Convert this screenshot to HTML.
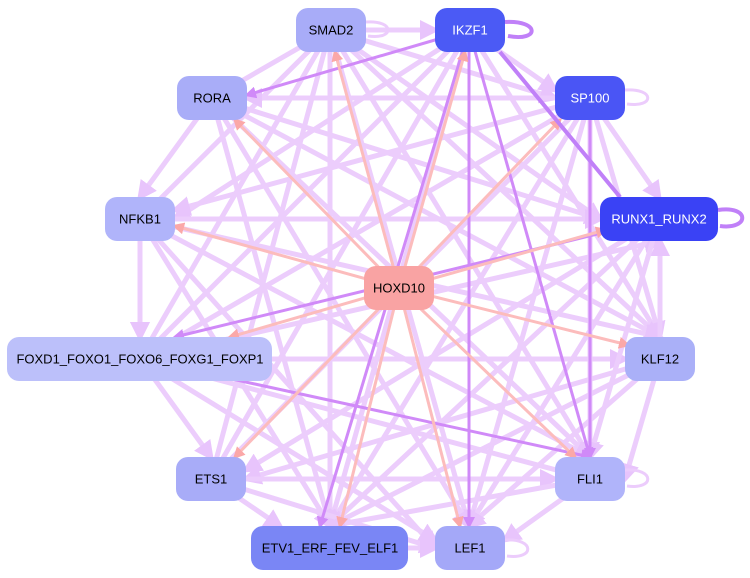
<!DOCTYPE html>
<html><head><meta charset="utf-8"><style>
html,body{margin:0;padding:0;background:#fff;width:750px;height:578px;overflow:hidden}
svg{display:block}
text{font-family:"Liberation Sans",sans-serif;font-size:13px;text-anchor:middle;dominant-baseline:central}
</style></head><body>
<svg width="750" height="578" viewBox="0 0 750 578">
<defs>
<marker id="a" markerWidth="4" markerHeight="4" refX="3" refY="2" orient="auto"><path d="M0,0L4,2L0,4z" fill="#e8c4fc"/></marker>
<marker id="p" markerWidth="4" markerHeight="4" refX="3" refY="2" orient="auto"><path d="M0,0L4,2L0,4z" fill="#d08af8"/></marker>
<marker id="r" markerWidth="4" markerHeight="4" refX="3" refY="2" orient="auto"><path d="M0,0L4,2L0,4z" fill="#fba8a8"/></marker>
</defs>
<g stroke="#eccdfc" stroke-width="5" fill="none" marker-end="url(#a)">
<line x1="330" y1="30" x2="435" y2="30"/><line x1="330" y1="30" x2="212" y2="98"/><line x1="330" y1="30" x2="140" y2="219"/>
<line x1="330" y1="30" x2="140" y2="359"/><line x1="330" y1="30" x2="211" y2="479"/><line x1="330" y1="30" x2="330" y2="526"/>
<line x1="330" y1="30" x2="469" y2="526"/><line x1="330" y1="30" x2="590" y2="457"/><line x1="330" y1="30" x2="660" y2="337"/>
<line x1="330" y1="30" x2="600" y2="219"/><line x1="330" y1="30" x2="555" y2="98"/>
<line x1="469" y1="30" x2="140" y2="359"/><line x1="469" y1="30" x2="211" y2="479"/><line x1="469" y1="30" x2="330" y2="526"/>
<line x1="469" y1="30" x2="660" y2="337"/><line x1="469" y1="30" x2="175" y2="219"/><line x1="469" y1="30" x2="555" y2="90"/>
<line x1="590" y1="98" x2="247" y2="98"/><line x1="590" y1="98" x2="175" y2="210"/><line x1="590" y1="98" x2="140" y2="359"/>
<line x1="590" y1="98" x2="211" y2="479"/><line x1="590" y1="98" x2="330" y2="526"/><line x1="590" y1="98" x2="469" y2="526"/>
<line x1="590" y1="98" x2="590" y2="457"/><line x1="590" y1="98" x2="659" y2="197"/><line x1="590" y1="98" x2="660" y2="337"/>
<line x1="212" y1="98" x2="140" y2="197"/><line x1="212" y1="98" x2="660" y2="337"/><line x1="212" y1="98" x2="590" y2="457"/>
<line x1="212" y1="98" x2="469" y2="526"/><line x1="212" y1="98" x2="330" y2="526"/><line x1="212" y1="98" x2="600" y2="219"/>
<line x1="140" y1="219" x2="140" y2="337"/><line x1="140" y1="219" x2="600" y2="219"/><line x1="140" y1="219" x2="435" y2="548"/>
<line x1="140" y1="219" x2="330" y2="526"/><line x1="140" y1="219" x2="590" y2="457"/><line x1="140" y1="219" x2="660" y2="337"/>
<line x1="140" y1="359" x2="625" y2="359"/><line x1="140" y1="359" x2="211" y2="457"/><line x1="140" y1="359" x2="435" y2="540"/>
<line x1="140" y1="359" x2="659" y2="241"/><line x1="140" y1="359" x2="590" y2="479"/>
<line x1="660" y1="359" x2="660" y2="241"/><line x1="660" y1="359" x2="625" y2="479"/><line x1="660" y1="359" x2="330" y2="526"/>
<line x1="660" y1="359" x2="469" y2="526"/><line x1="660" y1="359" x2="246" y2="479"/>
<line x1="659" y1="219" x2="590" y2="457"/><line x1="659" y1="219" x2="469" y2="526"/><line x1="659" y1="219" x2="330" y2="526"/><line x1="659" y1="219" x2="246" y2="470"/>
<line x1="211" y1="479" x2="435" y2="548"/><line x1="211" y1="479" x2="555" y2="479"/><line x1="211" y1="479" x2="280" y2="526"/>
<line x1="590" y1="479" x2="505" y2="540"/><line x1="590" y1="479" x2="330" y2="526"/><line x1="408" y1="548" x2="435" y2="548"/>
<line x1="140" y1="240" x2="140" y2="337"/>
</g>
<g stroke="#d08af8" stroke-width="3" fill="none" marker-end="url(#p)">
<line x1="469" y1="30" x2="590" y2="457"/><line x1="469" y1="30" x2="469" y2="526"/><line x1="469" y1="30" x2="247" y2="95"/>
<line x1="659" y1="219" x2="175" y2="337"/><line x1="590" y1="98" x2="590" y2="457"/>
<line x1="140" y1="359" x2="590" y2="457"/><line x1="469" y1="30" x2="320" y2="526"/>
</g>
<g stroke="#fcbcbc" stroke-width="3" fill="none" marker-end="url(#r)">
<line x1="399" y1="288" x2="335" y2="52"/><line x1="399" y1="288" x2="465" y2="52"/><line x1="399" y1="288" x2="235" y2="120"/>
<line x1="399" y1="288" x2="175" y2="226"/><line x1="399" y1="288" x2="230" y2="337"/><line x1="399" y1="288" x2="235" y2="457"/>
<line x1="399" y1="288" x2="340" y2="526"/><line x1="399" y1="288" x2="560" y2="120"/><line x1="399" y1="288" x2="605" y2="230"/>
<line x1="399" y1="288" x2="628" y2="345"/><line x1="399" y1="288" x2="575" y2="457"/><line x1="399" y1="288" x2="460" y2="526"/>
</g>
<g stroke="#c080f8" stroke-width="4" fill="none">
<path d="M505,22 C540,20 540,42 508,36"/><path d="M718,210 C750,205 750,230 720,226"/><path d="M500,52 L620,197"/>
</g>
<g stroke="#ecccfc" stroke-width="3" fill="none">
<path d="M366,22 C395,20 395,40 368,36"/><path d="M625,90 C655,88 655,108 627,104"/><path d="M625,470 C655,468 655,490 627,486"/><path d="M505,540 C535,538 535,560 507,556"/>
</g>
<g>
<rect x="296" y="8" width="70" height="44" rx="12" fill="#a8acf8"/><text x="331" y="30">SMAD2</text>
<rect x="435" y="8" width="70" height="44" rx="12" fill="#4b5af5"/><text x="470" y="30" fill="#fff">IKZF1</text>
<rect x="555" y="76" width="70" height="44" rx="12" fill="#4a55f5"/><text x="590" y="98" fill="#fff">SP100</text>
<rect x="177" y="76" width="70" height="44" rx="12" fill="#a9adf8"/><text x="212" y="98">RORA</text>
<rect x="105" y="197" width="70" height="44" rx="12" fill="#b0b4fa"/><text x="140" y="219">NFKB1</text>
<rect x="600" y="197" width="118" height="44" rx="12" fill="#3a42f5"/><text x="659" y="219" fill="#fff">RUNX1_RUNX2</text>
<rect x="364" y="266" width="70" height="44" rx="12" fill="#f9a3a3"/><text x="399" y="288">HOXD10</text>
<rect x="7" y="337" width="265" height="44" rx="12" fill="#bcc0fa"/><text x="140" y="359">FOXD1_FOXO1_FOXO6_FOXG1_FOXP1</text>
<rect x="625" y="337" width="70" height="44" rx="12" fill="#aab0f8"/><text x="660" y="359">KLF12</text>
<rect x="176" y="457" width="70" height="44" rx="12" fill="#a8acf8"/><text x="211" y="479">ETS1</text>
<rect x="555" y="457" width="70" height="44" rx="12" fill="#b0b4fa"/><text x="590" y="479">FLI1</text>
<rect x="251" y="526" width="157" height="44" rx="12" fill="#7a86f5"/><text x="330" y="548">ETV1_ERF_FEV_ELF1</text>
<rect x="435" y="526" width="70" height="44" rx="12" fill="#a4a8f8"/><text x="470" y="548">LEF1</text>
</g>
</svg>
</body></html>
